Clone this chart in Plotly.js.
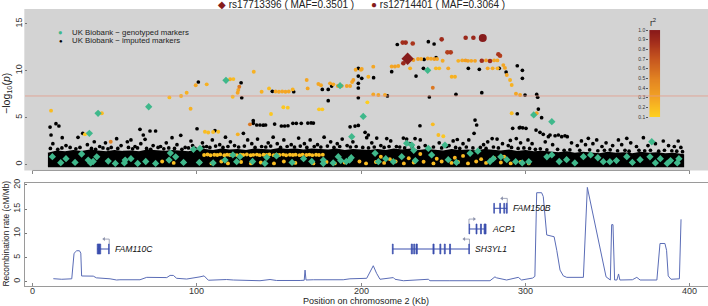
<!DOCTYPE html>
<html><head><meta charset="utf-8">
<script src="https://cdn.plot.ly/plotly-3.0.1.min.js"></script>
<style>html,body{margin:0;padding:0;background:#fff}#chart{width:708px;height:306px}</style>
</head><body><div id="chart"></div>
<script>
// ---------------- DATA (kb position, -log10 p, r2) ----------------
const kbTicks = [0, 100, 200, 300, 400];
const logpTicks = [0, 5, 10, 15];
const recTicks = [0, 5, 10, 15, 20];
const r2Steps = [0.1, 0.2, 0.3, 0.4, 0.5, 0.6, 0.7, 0.8, 0.9, 1.0];
const genomeWideLine = 7.3;

// dense band of imputed markers (outline of the saturated black region)
const bandX = [9.5,15,20,25,30,35,40,45,50,55,60,65,70,75,80,85,90,95,100,105,110,115,120,125,130,135,140,145,150,155,160,165,170,175,180,185,190,195,200,205,210,215,220,225,230,235,240,245,250,255,260,265,270,275,280,285,290,295,300,305,310,315,320,325,330,335,340,345,350,355,360,365,370,375,380,385,390,396];
const bandTop = [1.15,1.40,1.30,1.45,1.35,1.50,1.40,1.30,1.45,1.35,1.40,1.30,1.50,1.40,1.35,1.45,1.40,1.30,1.50,1.55,1.45,1.60,1.50,1.55,1.45,1.60,1.55,1.50,1.65,1.55,1.60,1.50,1.60,1.55,1.50,1.60,1.45,1.55,1.50,1.45,1.55,1.45,1.60,1.50,1.60,1.45,1.55,1.50,1.40,1.55,1.45,1.50,1.40,1.55,1.45,1.40,1.50,1.35,1.45,1.30,1.35,1.25,1.20,1.30,1.15,1.25,1.20,1.10,1.25,1.15,1.20,1.10,1.25,1.15,1.20,1.10,1.15,1.00];
const bandFloor = -0.22;

// imputed markers, r2 < 0.1 (black)
const blackHigh = [[222.0,12.80],[240.9,13.10],[244.4,12.85],[218.6,9.89],[233.4,9.43],[238.3,11.20],[245.6,11.40],[237.9,10.25],[265.2,10.25],[271.9,10.15],[284.0,10.25],[288.2,9.85],[295.0,10.53],[298.1,10.04],[298.1,9.18],[299.7,7.40],[216.0,7.30],[241.5,7.19],[257.7,7.47],[273.4,7.65],[306.8,7.47],[307.4,7.17],[307.8,5.90],[295.0,5.40],[101.0,8.79],[127.0,8.71],[127.4,7.11],[146.0,7.80],[159.0,7.75],[176.4,8.00],[180.0,8.00],[180.0,6.80],[182.1,8.36],[198.3,10.25],[198.3,9.43],[198.3,8.65],[198.3,8.15],[198.3,7.11],[200.4,9.18],[207.6,9.25]];
const blackMid = [[309.8,4.98],[235.8,4.12],[269.3,4.73],[270.3,4.20],[268.7,3.31],[292.2,3.84],[296.2,3.90],[298.3,3.90],[300.3,3.84],[296.7,3.95],[202.4,3.42],[204.4,3.13],[203.4,2.84],[209.5,2.80],[215.6,2.75],[225.7,2.80],[227.7,2.70],[232.8,2.75],[258.5,2.65],[279.7,2.75],[282.7,2.70],[290.8,2.55],[294.4,2.75],[10.8,3.98],[14.4,4.34],[16.2,4.09],[11.4,3.13],[18.2,2.84],[27.8,2.88],[30.7,3.31],[37.7,2.41],[51.3,2.74],[57.8,2.41],[60.0,2.60],[65.5,3.74],[67.5,3.13],[68.6,2.67],[71.6,3.56],[75.0,3.56],[85.0,2.84],[90.3,3.10],[96.5,2.49],[100.2,3.80],[111.1,3.60],[128.4,3.31],[134.4,4.66],[134.4,4.38],[136.5,4.20],[138.5,4.20],[140.5,4.18],[141.9,4.20],[147.4,4.30],[151.5,4.09],[153.5,4.09],[155.5,4.12],[158.5,4.38],[160.6,4.38],[163.6,4.38],[167.6,4.40],[169.6,4.42],[171.0,4.40],[193.3,4.00],[196.3,4.08],[198.3,4.15],[306.4,3.66],[308.8,3.42],[310.8,3.20],[313.9,2.95],[314.9,3.13],[318.0,3.05],[320.0,3.13],[322.0,2.95],[324.0,3.05],[325.4,2.95],[338.2,2.78],[343.3,2.60],[356.5,2.60],[361.6,2.78],[371.7,2.84],[383.8,2.49],[392.9,2.49],[117.5,2.90],[146.5,2.90],[162.0,2.80],[177.5,2.90],[109.5,2.60],[131.0,2.60],[137.0,2.70],[153.0,2.60],[169.0,2.60],[188.5,2.70],[236.0,2.60],[265.5,2.60],[301.5,2.60],[256.0,2.50],[218.0,2.50],[334.0,2.50],[44.5,2.30],[81.5,2.30],[103.5,2.30],[143.5,2.30],[206.5,2.30],[247.5,2.30],[297.0,2.30],[312.0,2.40],[349.0,2.30],[364.0,2.30],[120.5,2.40],[181.5,2.40],[195.0,2.40],[277.0,2.40]];
const blackLow = [[12.5,2.2],[20.5,2.0],[23.0,1.8],[33.5,2.1],[41.0,1.9],[48.0,1.8],[54.0,2.0],[62.5,1.9],[66.0,2.2],[73.5,2.0],[78.0,1.9],[88.0,2.1],[93.0,1.8],[97.5,2.0],[106.0,1.9],[114.0,2.1],[123.0,2.0],[133.5,2.2],[149.0,2.2],[157.5,2.1],[165.5,2.2],[173.5,2.1],[185.5,2.2],[191.5,2.0],[212.0,2.0],[221.5,1.9],[229.5,2.2],[239.0,2.0],[253.5,2.0],[262.0,2.2],[274.5,2.1],[286.0,2.2],[289.5,2.0],[304.0,2.2],[316.5,2.1],[328.0,2.3],[331.5,2.0],[336.5,2.1],[341.0,2.2],[346.5,1.9],[353.0,2.0],[358.5,2.1],[367.5,1.9],[374.5,2.0],[379.0,2.2],[387.0,2.0],[390.5,1.9],[394.5,1.8]];
const blackEdge = [[11.0,1.7],[15.5,1.6],[18.0,1.75],[26.5,1.65],[29.0,1.8],[36.0,1.7],[38.5,1.6],[43.0,1.75],[46.0,1.65],[52.0,1.7],[58.5,1.8],[61.0,1.65],[64.0,1.75],[69.5,1.7],[72.0,1.6],[76.5,1.8],[80.0,1.65],[83.0,1.75],[86.5,1.7],[91.0,1.6],[95.0,1.75],[99.0,1.7],[104.0,1.85],[108.0,1.8],[111.5,1.95],[116.0,1.8],[119.0,1.9],[125.5,1.85],[129.0,1.95],[135.5,1.8],[139.5,1.9],[142.0,1.85],[145.0,1.95],[151.0,1.8],[155.0,1.9],[159.5,1.85],[163.0,1.95],[167.0,1.8],[171.5,1.9],[175.5,1.85],[179.5,1.95],[183.5,1.8],[187.0,1.9],[193.5,1.85],[197.0,1.9],[201.0,1.8],[204.5,1.75],[208.0,1.85],[214.0,1.8],[217.0,1.9],[223.5,1.85],[226.5,1.75],[231.0,1.9],[235.0,1.8],[244.0,1.85],[249.0,1.75],[252.0,1.9],[257.5,1.8],[260.0,1.7],[264.0,1.85],[268.0,1.75],[272.5,1.8],[276.0,1.7],[280.5,1.85],[283.5,1.75],[291.5,1.8],[295.5,1.7],[299.0,1.75],[302.5,1.7],[306.0,1.6],[309.0,1.65],[313.0,1.55],[319.5,1.6],[323.5,1.5],[327.0,1.55],[333.0,1.5],[339.0,1.55],[344.0,1.45],[348.0,1.5],[351.5,1.55],[356.0,1.45],[360.5,1.5],[363.0,1.4],[369.0,1.5],[372.5,1.45],[376.0,1.5],[381.0,1.4],[384.5,1.5],[389.0,1.45],[392.0,1.4],[395.5,1.35]];

// imputed markers coloured by r2 with the lead SNP: [kb, -log10 p, r2]
const ldTop = [[225.3,13.00,0.88],[227.1,13.00,0.90],[231.4,12.90,0.85],[249.0,13.35,0.90],[252.5,11.96,0.80],[254.5,11.96,0.82],[263.6,13.52,0.92],[268.3,13.52,0.92],[225.7,10.79,0.92],[273.4,11.07,0.90],[278.4,11.03,0.92],[283.5,11.75,0.85],[284.5,11.60,0.80],[243.6,8.18,0.55],[125.9,8.29,0.55],[132.4,4.27,0.55],[47.7,2.41,0.50]];
const ldUpper = [[231.8,11.14,0.35],[234.6,11.25,0.32],[236.5,11.25,0.30],[240.5,11.30,0.33],[242.5,11.28,0.30],[244.5,11.25,0.35],[246.2,11.25,0.30],[249.6,11.07,0.28],[259.1,11.05,0.25],[261.5,11.10,0.30],[263.5,11.10,0.35],[265.0,11.05,0.33],[267.0,11.05,0.30],[269.3,11.05,0.32],[276.0,11.10,0.35],[280.9,11.10,0.30],[282.9,11.10,0.28],[200.4,10.18,0.30],[207.4,10.43,0.30],[204.4,9.36,0.25],[218.6,10.45,0.30],[220.6,10.45,0.32],[222.6,10.50,0.30],[229.8,10.25,0.25],[245.5,10.25,0.22],[247.5,10.25,0.20],[253.0,10.25,0.30],[255.1,9.36,0.25],[257.1,9.36,0.25],[277.0,10.25,0.30],[280.0,10.25,0.28],[283.0,10.25,0.25],[286.5,10.60,0.30],[287.5,10.30,0.30],[288.6,9.54,0.30],[290.6,9.00,0.25],[291.6,8.47,0.25],[196.7,10.10,0.30],[199.9,10.10,0.30],[194.5,8.80,0.30],[195.3,9.00,0.35]];
const ldMiddle = [[83.4,7.15,0.20],[90.5,7.30,0.25],[93.9,7.65,0.25],[99.4,8.44,0.30],[106.1,8.54,0.25],[120.3,9.08,0.25],[122.3,9.10,0.20],[134.7,9.89,0.25],[125.3,7.94,0.30],[124.9,7.65,0.30],[121.9,7.22,0.20],[139.5,7.75,0.25],[144.0,8.11,0.20],[148.0,7.78,0.30],[150.0,7.75,0.30],[152.0,7.78,0.30],[154.0,7.75,0.30],[156.0,7.78,0.30],[158.4,8.00,0.25],[166.9,9.00,0.30],[167.5,8.11,0.30],[174.0,8.58,0.30],[175.6,8.45,0.30],[181.1,8.65,0.30],[183.1,8.54,0.30],[185.8,8.36,0.30],[188.2,8.36,0.30],[191.3,8.36,0.32],[193.3,8.36,0.30],[207.4,7.47,0.30],[210.5,7.40,0.30],[214.5,7.40,0.30],[294.2,7.54,0.30],[296.7,7.40,0.30],[11.4,5.73,0.20],[42.3,5.45,0.20],[96.3,5.94,0.25],[145.2,5.37,0.15],[152.7,6.09,0.15],[155.4,6.05,0.15],[174.4,5.87,0.15],[176.4,5.87,0.15],[203.8,6.62,0.12],[306.8,5.45,0.30],[291.6,5.45,0.20],[243.6,4.27,0.20],[32.0,3.20,0.15],[105.0,3.48,0.20],[107.0,3.40,0.20],[110.0,3.45,0.20],[113.1,3.48,0.20],[125.0,3.20,0.25],[247.0,3.13,0.20],[250.0,3.00,0.15]];
const ldBand = [[104.5,1.00,0.18],[106.6,1.05,0.20],[108.4,0.96,0.18],[110.7,1.02,0.20],[112.5,1.00,0.18],[114.3,1.06,0.20],[116.8,0.97,0.18],[118.5,1.03,0.20],[120.2,0.99,0.18],[122.6,1.04,0.20],[124.5,0.98,0.18],[126.7,1.02,0.20],[128.3,1.00,0.18],[130.5,1.05,0.20],[132.8,0.97,0.18],[134.4,1.01,0.20],[136.6,1.04,0.18],[138.3,0.98,0.20],[140.7,1.02,0.18],[142.5,1.00,0.20],[144.2,1.05,0.18],[146.8,0.98,0.20],[148.5,1.02,0.18],[150.3,1.00,0.20],[152.6,1.04,0.18],[154.4,0.97,0.20],[156.7,1.02,0.18],[158.5,1.00,0.20],[160.2,1.03,0.18],[162.6,0.98,0.20],[164.4,1.02,0.18],[166.7,1.00,0.20],[168.5,1.04,0.18],[170.3,0.98,0.20],[172.6,1.02,0.18],[174.4,1.00,0.20],[176.7,1.03,0.18]];
const ldLow = [[79.0,0.30,0.20],[86.0,0.15,0.18],[92.0,0.25,0.20],[102.0,0.20,0.20],[109.0,0.10,0.18],[115.0,0.30,0.20],[119.0,0.10,0.20],[127.0,0.25,0.18],[133.0,0.10,0.20],[139.0,0.20,0.18],[147.0,0.10,0.20],[153.0,0.30,0.20],[160.0,0.15,0.18],[171.0,0.10,0.20],[179.0,0.25,0.20],[184.0,0.10,0.18],[190.0,0.20,0.20],[199.0,0.30,0.22],[203.0,0.10,0.20],[209.0,0.25,0.20],[214.0,0.15,0.22],[221.0,0.30,0.20],[226.0,0.10,0.22],[232.0,0.20,0.20],[238.0,0.28,0.22],[244.0,0.10,0.20],[249.0,0.30,0.22],[255.0,0.15,0.20],[259.0,0.25,0.22],[265.0,0.10,0.20],[270.0,0.30,0.22],[276.0,0.15,0.20],[285.0,0.20,0.22],[291.0,0.10,0.20],[297.0,0.25,0.22],[302.0,0.10,0.20],[212.0,0.80,0.20],[236.0,1.10,0.22],[262.0,0.90,0.20],[287.0,0.80,0.22],[217.5,0.55,0.20],[229.0,0.65,0.20],[246.0,0.60,0.20],[257.0,0.70,0.22],[273.0,0.55,0.20],[281.0,0.65,0.20]];

// genotyped markers (green)
const genotyped = [[40.0,5.45],[70.8,6.15],[34.7,3.31],[117.8,8.97],[187.2,8.40],[240.5,10.04],[201.3,5.12],[305.0,5.27],[316.0,4.55],[194.3,2.95],[376.8,2.41],[227.7,2.24],[230.8,2.06],[251.0,2.06],[102.0,1.70],[98.0,1.60],[240.9,1.70],[12.2,0.81],[17.3,0.17],[20.5,0.60],[26.0,0.20],[30.0,1.10],[34.0,0.45],[35.5,0.15],[37.0,0.30],[39.2,0.80],[46.2,0.35],[50.5,0.10],[56.0,0.15],[56.5,0.45],[60.0,0.60],[64.1,0.10],[69.0,0.30],[75.0,0.10],[83.2,0.45],[84.0,1.20],[87.2,0.80],[92.0,0.20],[101.6,0.20],[110.0,0.15],[117.2,0.45],[122.0,1.00],[124.3,0.28],[126.3,0.81],[134.0,0.30],[141.5,0.10],[142.6,0.75],[148.5,0.90],[158.0,0.20],[165.0,0.60],[170.0,0.30],[177.0,0.10],[177.0,0.45],[183.0,0.15],[186.1,0.81],[187.6,0.40],[191.0,0.30],[193.0,0.45],[194.0,0.70],[208.5,1.17],[210.5,0.28],[215.0,0.60],[219.6,0.28],[224.7,0.81],[232.0,1.50],[233.0,0.40],[242.9,1.00],[253.0,0.50],[258.0,0.20],[266.3,1.17],[271.0,1.40],[278.4,0.30],[280.4,0.60],[285.0,0.80],[288.6,0.50],[294.0,0.28],[298.0,0.15],[302.0,0.28],[313.0,0.80],[316.0,1.00],[320.5,0.30],[325.0,0.50],[330.0,0.15],[335.2,0.81],[339.6,1.00],[344.0,0.70],[347.3,0.28],[351.3,0.28],[355.3,0.40],[361.6,0.81],[365.0,0.20],[369.7,0.50],[375.7,0.80],[379.0,0.15],[382.0,0.60],[386.2,0.10],[388.2,0.40],[392.3,0.15],[393.3,0.60]];

// lead SNPs
const leadNames = ['rs17713396', 'rs12714401'];
const leadMAF = ['0.3501', '0.3064'];
const leadKb = [228.3, 274.0];
const leadLogp = [11.28, 13.50];

// recombination rate (cM/Mb)
const recX = [12.8,17.9,24.0,25.4,27.0,28.7,29.5,30.0,37.1,39.0,47.3,51.3,53.3,65.5,69.6,75.7,81.8,83.8,85.8,87.8,93.9,102.0,104.5,107.1,118.2,122.3,138.5,144.6,148.6,162.9,165.4,165.9,166.5,170.9,189.1,193.2,199.3,203.4,207.4,209.4,211.5,217.6,219.6,220.6,225.7,240.9,241.9,254.0,278.4,281.4,282.4,288.5,295.6,297.6,304.3,305.7,306.8,309.8,310.8,312.9,314.9,317.4,319.0,321.0,323.0,325.1,335.2,337.6,349.0,350.5,351.6,352.4,353.2,354.2,355.6,356.6,357.4,365.0,367.7,369.7,379.9,381.8,384.8,385.8,386.8,388.5,393.6,394.6];
const recY = [0.62,0.5,0.6,5.87,6.4,6.4,5.9,1.18,1.15,0.8,0.6,0.35,0.4,0.4,0.9,0.9,0.85,1.3,1.3,0.7,0.55,1.0,1.2,0.3,0.45,0.35,0.2,0.45,0.25,0.25,0.3,2.4,0.35,0.4,0.4,0.6,0.6,0.7,3.3,1.74,0.5,0.8,0.85,0.5,0.2,0.5,0.2,0.2,0.2,1.0,0.8,0.35,0.9,0.35,0.75,1.1,18.4,18.4,17.6,9.66,9.45,9.3,6.5,2.4,1.2,0.9,0.9,19.5,1.0,0.5,0.35,11.8,11.8,0.35,0.35,1.6,0.35,0.4,0.9,0.35,0.35,7.9,7.9,6.5,1.2,0.5,0.6,12.9];

// genes
const geneNames = ['FAM110C', 'SH3YL1', 'ACP1', 'FAM150B'];
const geneStart = [39.5, 219.0, 265.6, 280.7];
const geneEnd = [46.8, 265.9, 276.0, 288.9];
const geneRow = [6.76, 6.76, 10.9, 15.18];
const geneStrand = [-1, -1, 1, -1];
const geneExons = [
  [[39.5,41.6],[46.4,46.8]],
  [[219.0,219.5],[230.5,231.2],[232.0,232.6],[233.4,234.2],[243.7,244.4],[247.9,248.5],[250.6,251.2],[253.8,254.4],[265.5,265.9]],
  [[265.6,266.0],[269.9,270.5],[272.6,273.2],[274.8,276.0]],
  [[280.7,281.1],[284.3,284.8],[286.8,287.3],[288.3,288.9]]
];

// ---------------- STYLE ----------------
const r2Scale = [[0,'#FFD21F'],[0.22,'#F4A623'],[0.44,'#E38422'],[0.67,'#C7571F'],[0.85,'#A7311C'],[1,'#8A1A1A']];
const leadColor = '#861C1C';
const greenColor = '#3FB88B';
const geneColor = '#3A4EAE';
const recColor = '#5A6CB6';
const xRange = [-4.44, 411.0];
const FONT = 'Liberation Sans, Arial, Helvetica, sans-serif';
const NOLINE = {width:0};

const col = (arr, i) => arr.map(p => p[i]);
const traces = [];

// dense band
traces.push({type:'scatter', mode:'lines', xaxis:'x', yaxis:'y', hoverinfo:'skip',
  x: bandX.concat(bandX.slice().reverse()),
  y: bandTop.concat(bandX.map(() => bandFloor)),
  fill:'toself', fillcolor:'#000', line:{color:'#000', width:1.6}});

const blackAll = blackHigh.concat(blackMid, blackLow, blackEdge);
traces.push({type:'scatter', mode:'markers', xaxis:'x', yaxis:'y', hoverinfo:'skip',
  x: col(blackAll,0), y: col(blackAll,1), marker:{color:'#000', size:3.7, line:NOLINE}});

const ldAll = ldLow.concat(ldBand, ldMiddle, ldUpper, ldTop).slice().sort((a,b) => a[2]-b[2]);
traces.push({type:'scatter', mode:'markers', xaxis:'x', yaxis:'y', hoverinfo:'skip',
  x: col(ldAll,0), y: col(ldAll,1),
  marker:{color: col(ldAll,2), colorscale:r2Scale, cmin:0.1, cmax:1.0, showscale:false, opacity:1,
          line:NOLINE, size: ldAll.map(p => p[2] > 0.7 ? 4.6 : 3.9)}});

traces.push({type:'scatter', mode:'markers', xaxis:'x', yaxis:'y', hoverinfo:'skip',
  x: col(genotyped,0), y: col(genotyped,1),
  marker:{color:greenColor, size:5.6, symbol:'diamond', line:NOLINE}});

traces.push({type:'scatter', mode:'markers', xaxis:'x', yaxis:'y', hoverinfo:'skip',
  x: [leadKb[0]], y: [leadLogp[0]], marker:{color:leadColor, size:9.5, symbol:'diamond', line:NOLINE}});
traces.push({type:'scatter', mode:'markers', xaxis:'x', yaxis:'y', hoverinfo:'skip',
  x: [leadKb[1]], y: [leadLogp[1]], marker:{color:leadColor, size:8, symbol:'circle', line:NOLINE}});

// recombination
traces.push({type:'scatter', mode:'lines', xaxis:'x2', yaxis:'y2', hoverinfo:'skip',
  x: recX, y: recY, line:{color:recColor, width:1}});

// genes
const shapes = [];
const annotations = [];
geneNames.forEach((g, i) => {
  traces.push({type:'scatter', mode:'lines', xaxis:'x2', yaxis:'y2', hoverinfo:'skip',
    x:[geneStart[i], geneEnd[i]], y:[geneRow[i], geneRow[i]], line:{color:geneColor, width:1}});
  geneExons[i].forEach(e => shapes.push({type:'rect', xref:'x2', yref:'y2', layer:'above',
    x0:e[0], x1:e[1], y0:geneRow[i]-1.03, y1:geneRow[i]+1.03,
    fillcolor:geneColor, line:{color:geneColor, width:0.7}}));
  const tss = geneStrand[i] > 0 ? geneStart[i] : geneEnd[i];
  const tip = tss + geneStrand[i]*3.2;
  traces.push({type:'scatter', mode:'lines', xaxis:'x2', yaxis:'y2', hoverinfo:'skip',
    x:[tss, tss, tip], y:[geneRow[i]+1.03, geneRow[i]+2.05, geneRow[i]+2.05],
    line:{color:'#8a90aa', width:0.8}});
  traces.push({type:'scatter', mode:'markers', xaxis:'x2', yaxis:'y2', hoverinfo:'skip',
    x:[tip], y:[geneRow[i]+2.05],
    marker:{color:'#8a90aa', size:3.5, line:NOLINE, symbol: geneStrand[i] > 0 ? 'triangle-right' : 'triangle-left'}});
  annotations.push({xref:'x2', yref:'y2', x:geneEnd[i], y:geneRow[i], xanchor:'left', yanchor:'middle',
    xshift:4, showarrow:false, text:'<i>'+g+'</i>', font:{family:FONT, size:8.6, color:'#111'}});
});

// r2 key
traces.push({type:'heatmap', xaxis:'x3', yaxis:'y3', hoverinfo:'skip', showscale:false,
  x:[0,1], y:r2Steps, z:r2Steps.map(v => [v, v]), zsmooth:'best',
  colorscale:r2Scale, zmin:0.1, zmax:1.0});

// backgrounds and reference lines
shapes.unshift({type:'rect', xref:'paper', yref:'y domain', x0:-0.001, x1:1, y0:0, y1:1,
  fillcolor:'#D3D3D3', line:{width:0}, layer:'below'});
shapes.push({type:'line', xref:'paper', yref:'y', x0:0, x1:1, y0:genomeWideLine, y1:genomeWideLine,
  line:{color:'#E39A88', width:0.8}, layer:'above'});
shapes.push({type:'line', xref:'x', yref:'y domain', x0:kbTicks[0], x1:kbTicks[kbTicks.length-1], y0:0, y1:0,
  line:{color:'#888', width:0.8}});

// x tick labels of the lower panel (placed tight under the frame, as in the reference)
kbTicks.forEach(k => annotations.push({xref:'x2', yref:'paper', x:k, y:-0.0181, xanchor:'center', yanchor:'middle',
  showarrow:false, text:String(k), font:{family:FONT, size:9, color:'#333'}}));

// texts
annotations.push(
  {xref:'paper', yref:'paper', x:0.3815, y:1.0145, xanchor:'center', yanchor:'middle', showarrow:false,
   text:'<span style="color:'+leadColor+'">◆</span> '+leadNames[0]+' ( MAF='+leadMAF[0]+' )', font:{family:FONT, size:10, color:'#222'}},
  {xref:'paper', yref:'paper', x:0.6047, y:1.0145, xanchor:'center', yanchor:'middle', showarrow:false,
   text:'<span style="color:'+leadColor+'">●</span> '+leadNames[1]+' ( MAF='+leadMAF[1]+' )', font:{family:FONT, size:10, color:'#222'}},
  {xref:'paper', yref:'paper', x:0.0523, y:0.9144, xanchor:'center', yanchor:'middle', showarrow:false,
   text:'<span style="color:'+greenColor+'">●</span>', font:{family:FONT, size:7.5}},
  {xref:'paper', yref:'paper', x:0.0659, y:0.9144, xanchor:'left', yanchor:'middle', showarrow:false,
   text:'UK Biobank − genotyped markers', font:{family:FONT, size:7.8, color:'#222'}},
  {xref:'paper', yref:'paper', x:0.0523, y:0.8845, xanchor:'center', yanchor:'middle', showarrow:false,
   text:'●', font:{family:FONT, size:6, color:'#000'}},
  {xref:'paper', yref:'paper', x:0.0659, y:0.8845, xanchor:'left', yanchor:'middle', showarrow:false,
   text:'UK Biobank − imputed markers', font:{family:FONT, size:7.8, color:'#222'}},
  {xref:'paper', yref:'paper', x:0.9199, y:0.952, xanchor:'center', yanchor:'middle', showarrow:false,
   text:'r<sup>2</sup>', font:{family:FONT, size:8.5, color:'#222'}},
  {xref:'paper', yref:'paper', x:-0.0265, y:0.6968, xanchor:'center', yanchor:'middle', showarrow:false, textangle:-90,
   text:'−log<sub>10</sub>(<i>p</i>)', font:{family:FONT, size:10.5, color:'#222'}},
  {xref:'paper', yref:'paper', x:-0.0285, y:0.1877, xanchor:'center', yanchor:'middle', showarrow:false, textangle:-90,
   text:'Recombination rate (cM/Mb)', font:{family:FONT, size:8.4, color:'#222'}},
  {xref:'paper', yref:'paper', x:0.4993, y:-0.0541, xanchor:'center', yanchor:'middle', showarrow:false,
   text:'Position on chromosome 2 (Kb)', font:{family:FONT, size:9, color:'#222'}}
);

const layout = {
  width:708, height:306, margin:{l:25, r:0, t:9, b:20},
  paper_bgcolor:'#fff', plot_bgcolor:'rgba(0,0,0,0)', showlegend:false,
  font:{family:FONT, size:9, color:'#222'},
  xaxis:{domain:[0,1], anchor:'y', range:xRange, tickvals:kbTicks, ticks:'outside', ticklen:3, tickcolor:'#888',
         showticklabels:false, showgrid:false, zeroline:false, showline:false},
  yaxis:{domain:[0.417,1], anchor:'x', range:[-0.66,16.59], tickvals:logpTicks, ticks:'inside', ticklen:2, tickcolor:'#777',
         tickangle:-90, tickfont:{size:9, color:'#333'}, showgrid:false, zeroline:false, showline:false},
  xaxis2:{domain:[0,1], anchor:'y2', range:xRange, tickvals:kbTicks, ticks:'inside', ticklen:3, tickcolor:'#888',
          showticklabels:false, showline:true, mirror:true, linecolor:'#9a9a9a', linewidth:1,
          showgrid:false, zeroline:false},
  yaxis2:{domain:[0,0.3708], anchor:'x2', range:[-0.89,20.35], tickvals:recTicks, ticks:'inside', ticklen:2, tickcolor:'#777',
          tickangle:-90, tickfont:{size:9, color:'#333'}, showline:true, mirror:true, linecolor:'#9a9a9a', linewidth:1,
          showgrid:false, zeroline:false},
  xaxis3:{domain:[0.914,0.930], anchor:'y3', range:[0,1], visible:false},
  yaxis3:{domain:[0.610,0.924], anchor:'x3', range:[0.1,1.0], tickvals:r2Steps, ticktext:r2Steps.map(v => v.toFixed(1)),
          ticks:'outside', ticklen:2, tickcolor:'#555', tickfont:{size:5, color:'#333'},
          showgrid:false, zeroline:false, showline:false},
  shapes: shapes,
  annotations: annotations
};

Plotly.newPlot('chart', traces, layout, {displayModeBar:false, staticPlot:true});
</script></body></html>
